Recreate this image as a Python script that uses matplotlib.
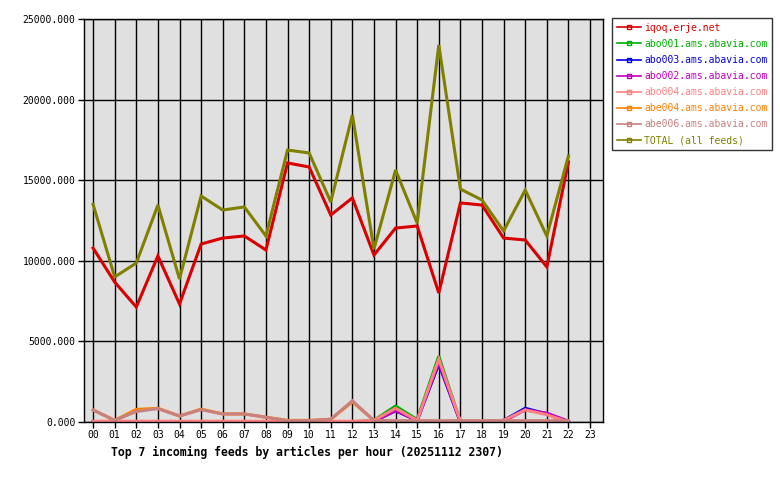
import matplotlib
matplotlib.use("Agg")
import matplotlib.pyplot as plt
from matplotlib.lines import Line2D

hours = list(range(23))
hour_labels = [f"{h:02d}" for h in range(24)]

iqoq = [10790, 8680, 7130, 10300, 7320, 11040, 11410, 11540, 10670, 16070, 15820, 12840,
        13900, 10360, 12030, 12160, 8000, 13590, 13460, 11410, 11290, 9620, 16130]
abo001 = [0, 0, 0, 0, 0, 0, 0, 0, 0, 0, 0, 0, 0, 100, 990, 150, 4090, 0, 0, 0, 0, 0, 0]
abo003 = [0, 0, 0, 0, 0, 0, 0, 0, 0, 0, 0, 0, 0, 50, 700, 100, 3600, 0, 0, 100, 850, 500, 0]
abo002 = [0, 0, 0, 0, 0, 0, 0, 0, 0, 0, 0, 0, 0, 50, 700, 100, 3700, 0, 0, 50, 750, 550, 50]
abo004 = [50, 50, 50, 50, 50, 50, 50, 50, 50, 50, 50, 50, 50, 100, 850, 100, 3900, 50, 50, 100, 750, 450, 0]
abe004 = [750, 100, 780, 850, 370, 800, 500, 500, 300, 100, 100, 170, 1250, 100, 50, 50, 50, 50, 50, 50, 50, 50, 50]
abe006 = [745, 100, 650, 830, 370, 765, 500, 500, 290, 80, 80, 170, 1320, 80, 80, 80, 80, 80, 80, 80, 80, 80, 80]
total = [13500, 9000, 9860, 13460, 8870, 14020, 13150, 13340, 11540, 16870, 16690, 13650,
         19050, 10730, 15630, 12340, 23390, 14450, 13770, 11850, 14390, 11540, 16500]

series = [
    ("iqoq.erje.net", iqoq, "#d80000"),
    ("abo001.ams.abavia.com", abo001, "#00b000"),
    ("abo003.ams.abavia.com", abo003, "#0000e0"),
    ("abo002.ams.abavia.com", abo002, "#c000c0"),
    ("abo004.ams.abavia.com", abo004, "#ff8080"),
    ("abe004.ams.abavia.com", abe004, "#ff8000"),
    ("abe006.ams.abavia.com", abe006, "#c88080"),
    ("TOTAL (all feeds)", total, "#808000"),
]

mono = "DejaVu Sans Mono"
fig = plt.figure(figsize=(7.8, 4.8), dpi=100)
ax = fig.add_axes([84/780, 58/480, (603-84)/780, (422-19)/480])
ax.set_facecolor("#e0e0e0")

for name, vals, col in series:
    ax.plot(hours, vals, color=col, lw=2.2, solid_joinstyle="miter")

ax.set_xlim(-0.42, 23.6)
ax.set_ylim(0, 25000)
ax.set_xticks(range(24))
ax.set_xticklabels(hour_labels, fontfamily=mono, fontsize=7)
ax.set_yticks(range(0, 25001, 5000))
ax.set_yticklabels([f"{v:.3f}" for v in range(0, 25001, 5000)], fontfamily=mono, fontsize=7)
ax.grid(True, color="black", lw=1)
ax.set_axisbelow(True)
ax.tick_params(direction="out", length=4, width=1, colors="black", pad=2)
for s in ax.spines.values():
    s.set_linewidth(1)

fig.text(111/780, 1-452/480, "Top 7 incoming feeds by articles per hour (20251112 2307)",
         fontfamily=mono, fontsize=8.3, fontweight="bold", va="center", ha="left")

handles = [Line2D([0], [0], color=c, lw=1.2, marker="s", markersize=2.5,
                  markerfacecolor="none", markeredgecolor=c) for _, _, c in series]
leg = fig.legend(handles, [n for n, _, _ in series], loc="upper left",
                 bbox_to_anchor=(612/780, 1-18/480), frameon=True, fancybox=False,
                 prop={"family": mono, "size": 7}, handlelength=2.5, handletextpad=0.3,
                 labelspacing=0.62, borderpad=0.5, borderaxespad=0)
leg.get_frame().set_edgecolor("black")
leg.get_frame().set_linewidth(1)
for t, (_, _, c) in zip(leg.get_texts(), series):
    t.set_color(c)

fig.savefig("out.png", dpi=100)
